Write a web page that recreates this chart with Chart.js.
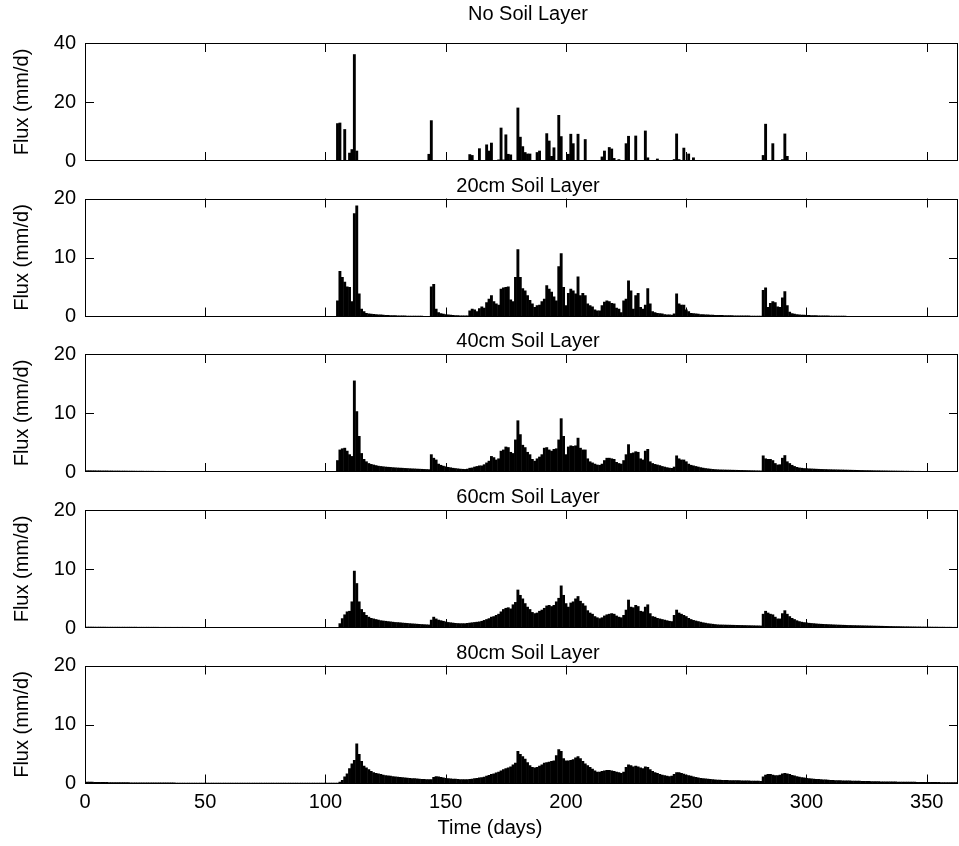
<!DOCTYPE html>
<html>
<head>
<meta charset="utf-8">
<script src="https://cdn.jsdelivr.net/npm/chart.js@4/dist/chart.umd.min.js"></script>
<style>
  html, body { margin: 0; padding: 0; background: #fff; }
  #wrap { position: relative; width: 959px; height: 846px; overflow: hidden; background: #fff; }
  #wrap canvas { position: absolute; left: 0; top: 0; }
</style>
</head>
<body>
<div id="wrap"></div>
<script>
// Daily drainage flux (mm/d) below the surface and at four soil depths, days 1-364.
const days = Array.from({ length: 364 }, (_, i) => i + 1);

const noSoilLayer = [
  0,0,0,0,0,0,0,0,0,0, 0,0,0,0,0,0,0,0,0,0, 0,0,0,0,0,0,0,0,0,0, 0,0,0,0,0,0,0,0,0,0, 0,0,0,0,0,0,0,0,0,0,
  0,0,0,0,0,0,0,0,0,0, 0,0,0,0,0,0,0,0,0,0, 0,0,0,0,0,0,0,0,0,0, 0,0,0,0,0,0,0,0,0,0, 0,0,0,0,0,0,0,0,0,0,
  0,0,0,0,12.8,13.0,0,10.8,0,2.8,          // 101-110
  4.0,36.2,3.5,0,0,0,0,0,0,0,              // 111-120
  0,0,0,0,0,0,0,0,0,0,                     // 121-130
  0,0,0,0,0,0,0,0,0,0,                     // 131-140
  0,0,2.4,13.8,0,0,0,0,0,0,                // 141-150
  0,0,0,0,0,0,0,0,0,2.3,                   // 151-160
  2.0,0,0,4.3,0,0,5.6,3.5,6.2,0,           // 161-170
  0,0.5,11.3,0.5,9.0,2.4,2.2,0,0,18.1,     // 171-180
  8.2,5.0,3.0,2.5,2.5,0,0,3.0,3.5,0,       // 181-190
  0,9.4,6.9,1.7,4.6,0,15.6,8.4,0,0,        // 191-200
  2.4,9.2,6.0,0,9.2,0,0,7.4,0,0,           // 201-210
  0,0,0,0,1.5,3.5,0,4.7,4.2,1.0,           // 211-220
  0,0.6,0,0,6.0,8.5,0,0,8.6,0,             // 221-230
  0,0,10.3,1.2,0,0,0,0.8,0,0,              // 231-240
  0,0,0,0,0.6,9.3,0.6,0,4.5,0,             // 241-250
  2.5,0,1.2,0,0,0,0,0,0,0,                 // 251-260
  0,0,0,0,0,0,0,0,0,0,                     // 261-270
  0,0,0,0,0,0,0,0,0,0,                     // 271-280
  0,2.0,12.6,0,0,6.0,0,0,0,0.6,            // 281-290
  9.3,1.7,0,0,0,0,0,0,0,0,                 // 291-300
  0,0,0,0,0,0,0,0,0,0, 0,0,0,0,0,0,0,0,0,0, 0,0,0,0,0,0,0,0,0,0,
  0,0,0,0,0,0,0,0,0,0, 0,0,0,0,0,0,0,0,0,0, 0,0,0,0,0,0,0,0,0,0, 0,0,0,0
];

const soil20cm = [
  0,0,0,0,0,0,0,0,0,0, 0,0,0,0,0,0,0,0,0,0, 0,0,0,0,0,0,0,0,0,0, 0,0,0,0,0,0,0,0,0,0, 0,0,0,0,0,0,0,0,0,0,
  0,0,0,0,0,0,0,0,0,0, 0,0,0,0,0,0,0,0,0,0, 0,0,0,0,0,0,0,0,0,0, 0,0,0,0,0,0,0,0,0,0, 0,0,0,0,0,0,0,0,0,0,
  0,0,0,0,2.7,7.7,6.7,5.9,5.1,5.0,                        // 101-110
  2.6,17.5,18.8,3.9,1.3,0.9,0.6,0.52,0.46,0.42,           // 111-120
  0.38,0.35,0.32,0.29,0.27,0.25,0.23,0.21,0.2,0.19,       // 121-130
  0.17,0.16,0.15,0.14,0.13,0.13,0.12,0.12,0.11,0.11,      // 131-140
  0.1,0.1,0.1,5.1,5.5,1.3,0.7,0.55,0.45,0.38,             // 141-150
  0.33,0.28,0.25,0.22,0.2,0.18,0.17,0.16,0.15,1.0,        // 151-160
  1.3,1.2,0.9,1.4,1.7,1.5,2.4,3.0,3.6,2.6,                // 161-170
  2.2,2.0,4.7,4.9,5.0,5.1,2.9,2.6,6.7,11.4,               // 171-180
  6.7,4.8,4.4,3.6,2.8,2.2,1.6,1.9,2.0,2.6,                // 181-190
  3.0,5.3,4.7,4.2,3.4,2.7,8.5,10.7,5.0,1.9,               // 191-200
  4.0,4.7,4.4,3.9,6.8,3.6,4.0,3.6,2.2,1.9,                // 201-210
  1.7,1.2,1.0,1.0,1.9,2.5,2.7,2.6,2.3,2.2,                // 211-220
  1.5,1.3,0.7,2.7,3.0,6.1,4.4,1.3,3.6,4.0,                // 221-230
  1.6,1.3,2.0,4.8,2.2,0.9,0.7,0.6,0.55,0.5,               // 231-240
  0.4,0.35,0.32,0.3,0.5,3.9,2.2,2.0,2.0,1.2,              // 241-250
  0.9,0.6,0.55,0.5,0.45,0.4,0.38,0.35,0.33,0.31,          // 251-260
  0.29,0.27,0.26,0.25,0.24,0.23,0.22,0.21,0.2,0.19,       // 261-270
  0.18,0.17,0.16,0.16,0.15,0.15,0.14,0.14,0.13,0.13,      // 271-280
  0.13,4.5,4.9,1.6,2.3,2.6,2.4,1.7,1.6,3.2,               // 281-290
  4.3,1.9,0.8,0.55,0.45,0.38,0.34,0.3,0.28,0.26,          // 291-300
  0.24,0.22,0.21,0.2,0.19,0.18,0.17,0.16,0.15,0.14,       // 301-310
  0.14,0.13,0.12,0.12,0.11,0.11,0.1,0.1,0.1,0.09,         // 311-320
  0.09,0.09,0.08,0.08,0.08,0.07,0.07,0.07,0.07,0.06,      // 321-330
  0.06,0.06,0.06,0.06,0.05,0.05,0.05,0.05,0.05,0.05,      // 331-340
  0.04,0.04,0.04,0.04,0.04,0.04,0.04,0.04,0.04,0.04,      // 341-350
  0.04,0.04,0.04,0.03,0.03,0.03,0.03,0.03,0.03,0.03,0.03,0.03,0.03,0.03
];

const soil40cm = [
  0.28,0.28,0.27,0.27,0.26,0.26,0.25,0.25,0.25,0.24,
  0.24,0.23,0.23,0.23,0.22,0.22,0.22,0.21,0.21,0.21,
  0.2,0.2,0.2,0.2,0.19,0.19,0.19,0.19,0.18,0.18,
  0.18,0.18,0.18,0.17,0.17,0.17,0.17,0.17,0.16,0.16,
  0.16,0.16,0.16,0.16,0.15,0.15,0.15,0.15,0.15,0.15,
  0.15,0.14,0.14,0.14,0.14,0.14,0.14,0.14,0.14,0.13,
  0.13,0.13,0.13,0.13,0.13,0.13,0.13,0.13,0.13,0.13,
  0.13,0.13,0.13,0.12,0.12,0.12,0.12,0.12,0.12,0.12,
  0.12,0.12,0.12,0.12,0.12,0.12,0.12,0.12,0.12,0.12,
  0.12,0.11,0.11,0.11,0.11,0.11,0.11,0.11,0.11,0.11,
  0.11,0.11,0.11,0.11,2.0,3.8,4.0,4.1,3.6,3.0,            // 101-110
  2.7,15.5,10.3,6.1,3.2,2.2,1.8,1.5,1.35,1.25,            // 111-120
  1.15,1.05,1.0,0.95,0.9,0.87,0.84,0.8,0.77,0.74,         // 121-130
  0.72,0.7,0.67,0.65,0.62,0.6,0.58,0.56,0.54,0.52,        // 131-140
  0.5,0.48,0.46,3.0,2.4,2.1,1.4,1.2,1.05,0.95,            // 141-150
  0.85,0.78,0.7,0.65,0.6,0.55,0.52,0.5,0.55,0.7,          // 151-160
  0.75,0.9,1.0,1.1,1.1,1.3,1.6,1.9,2.7,2.5,               // 161-170
  2.1,2.3,3.6,3.8,4.3,4.2,3.4,3.2,5.5,8.75,               // 171-180
  6.4,4.6,4.2,3.4,3.0,2.2,1.9,2.3,2.6,3.0,                // 181-190
  4.1,4.2,3.8,3.6,3.9,4.0,5.5,9.1,6.1,3.0,                // 191-200
  4.3,4.5,4.4,4.5,5.8,4.1,3.8,3.8,2.3,1.8,                // 201-210
  1.6,1.4,1.25,1.2,1.4,2.0,2.4,2.4,2.3,2.2,               // 211-220
  1.7,1.5,1.4,2.0,3.0,4.7,3.2,3.3,3.5,3.4,                // 221-230
  2.3,2.1,3.6,3.9,1.8,1.5,1.35,1.25,1.15,1.0,             // 231-240
  0.9,0.8,0.72,0.68,0.9,2.8,2.3,2.1,2.1,1.8,              // 241-250
  1.4,1.2,1.1,1.0,0.9,0.8,0.72,0.65,0.6,0.55,             // 251-260
  0.5,0.47,0.44,0.42,0.41,0.4,0.39,0.38,0.37,0.36,        // 261-270
  0.35,0.34,0.33,0.32,0.31,0.3,0.29,0.28,0.27,0.26,       // 271-280
  0.25,2.8,2.3,2.2,2.2,2.0,1.5,1.25,1.3,2.4,              // 281-290
  2.85,1.8,1.5,1.2,1.0,0.85,0.75,0.7,0.65,0.62,           // 291-300
  0.6,0.58,0.56,0.54,0.52,0.5,0.49,0.48,0.46,0.45,        // 301-310
  0.44,0.43,0.42,0.41,0.4,0.39,0.38,0.37,0.36,0.35,       // 311-320
  0.34,0.33,0.32,0.31,0.3,0.3,0.29,0.28,0.27,0.27,        // 321-330
  0.26,0.25,0.25,0.24,0.23,0.23,0.22,0.22,0.21,0.21,      // 331-340
  0.2,0.2,0.19,0.19,0.18,0.18,0.18,0.17,0.17,0.16,        // 341-350
  0.16,0.16,0.15,0.15,0.15,0.14,0.14,0.14,0.13,0.13,0.13,0.13,0.12,0.12
];

const soil60cm = [
  0.22,0.22,0.22,0.21,0.21,0.21,0.21,0.21,0.2,0.2,
  0.2,0.2,0.2,0.2,0.2,0.2,0.2,0.2,0.2,0.2,
  0.2,0.19,0.19,0.19,0.19,0.19,0.19,0.19,0.19,0.19,
  0.18,0.18,0.18,0.18,0.18,0.18,0.18,0.18,0.18,0.18,
  0.18,0.18,0.18,0.17,0.17,0.17,0.17,0.17,0.17,0.17,
  0.17,0.17,0.16,0.16,0.16,0.16,0.16,0.16,0.16,0.16,
  0.16,0.16,0.15,0.15,0.15,0.15,0.15,0.15,0.15,0.15,
  0.15,0.15,0.15,0.15,0.15,0.15,0.15,0.15,0.15,0.15,
  0.15,0.14,0.14,0.14,0.14,0.14,0.14,0.14,0.14,0.14,
  0.14,0.14,0.14,0.14,0.14,0.14,0.14,0.14,0.14,0.14,
  0.14,0.14,0.14,0.14,0.14,0.8,1.65,2.3,2.8,2.9,          // 101-110
  4.5,9.7,7.6,4.5,3.2,2.7,2.2,1.9,1.7,1.6,                // 111-120
  1.5,1.4,1.3,1.25,1.2,1.15,1.1,1.05,1.0,0.98,            // 121-130
  0.95,0.9,0.87,0.84,0.8,0.77,0.74,0.71,0.68,0.65,        // 131-140
  0.63,0.6,0.58,1.4,1.9,1.6,1.4,1.3,1.2,1.1,              // 141-150
  1.0,0.95,0.9,0.85,0.82,0.8,0.8,0.8,0.85,0.9,            // 151-160
  0.95,1.0,1.05,1.1,1.2,1.35,1.5,1.65,1.9,2.0,            // 161-170
  2.2,2.4,2.8,3.2,3.4,3.5,3.3,4.0,4.4,6.5,                // 171-180
  5.6,5.0,4.2,3.6,3.2,2.7,2.5,2.6,2.9,3.1,                // 181-190
  3.4,3.8,3.9,3.7,3.9,4.5,5.1,7.2,5.6,4.2,                // 191-200
  3.6,4.3,4.5,5.0,5.4,4.6,4.2,3.8,3.0,2.6,                // 201-210
  2.4,2.0,1.8,1.65,1.8,2.1,2.3,2.4,2.5,2.4,               // 211-220
  2.1,1.9,1.8,2.2,3.1,4.8,3.6,3.5,3.9,3.7,                // 221-230
  2.9,2.8,3.6,4.0,2.5,2.0,1.9,1.7,1.6,1.5,                // 231-240
  1.4,1.3,1.2,1.15,2.2,3.1,2.6,2.4,2.2,2.0,               // 241-250
  1.7,1.5,1.35,1.25,1.15,1.05,0.95,0.88,0.8,0.75,         // 251-260
  0.7,0.65,0.6,0.58,0.57,0.56,0.55,0.54,0.53,0.52,        // 261-270
  0.51,0.5,0.49,0.48,0.47,0.46,0.45,0.44,0.43,0.42,       // 271-280
  0.41,2.4,2.9,2.6,2.4,2.3,1.9,1.6,1.6,2.5,               // 281-290
  3.0,2.4,2.0,1.7,1.5,1.3,1.15,1.05,0.98,0.92,            // 291-300
  0.87,0.83,0.8,0.76,0.72,0.7,0.68,0.66,0.64,0.62,        // 301-310
  0.6,0.58,0.56,0.55,0.53,0.52,0.5,0.49,0.48,0.47,        // 311-320
  0.46,0.45,0.44,0.43,0.42,0.41,0.4,0.39,0.38,0.37,       // 321-330
  0.36,0.35,0.34,0.33,0.32,0.31,0.3,0.3,0.29,0.28,        // 331-340
  0.27,0.27,0.26,0.25,0.25,0.24,0.24,0.23,0.23,0.22,      // 341-350
  0.22,0.21,0.21,0.21,0.2,0.2,0.2,0.19,0.19,0.19,0.18,0.18,0.18,0.18
];

const soil80cm = [
  0.3,0.29,0.28,0.27,0.26,0.26,0.25,0.24,0.24,0.23,
  0.23,0.22,0.22,0.21,0.21,0.2,0.2,0.2,0.19,0.19,
  0.19,0.18,0.18,0.18,0.17,0.17,0.17,0.17,0.16,0.16,
  0.16,0.16,0.15,0.15,0.15,0.15,0.15,0.14,0.14,0.14,
  0.14,0.14,0.14,0.14,0.14,0.13,0.13,0.13,0.13,0.13,
  0.13,0.13,0.13,0.13,0.13,0.13,0.13,0.13,0.13,0.13,
  0.12,0.12,0.12,0.12,0.12,0.12,0.12,0.12,0.12,0.12,
  0.12,0.12,0.12,0.12,0.12,0.12,0.12,0.12,0.12,0.12,
  0.11,0.11,0.11,0.11,0.11,0.11,0.11,0.11,0.11,0.11,
  0.11,0.11,0.11,0.11,0.11,0.11,0.11,0.11,0.11,0.11,
  0.11,0.11,0.11,0.11,0.11,0.3,0.6,1.2,1.7,2.6,           // 101-110
  3.4,4.0,6.8,5.0,3.8,3.0,2.7,2.4,2.1,1.9,                // 111-120
  1.8,1.7,1.6,1.5,1.4,1.35,1.3,1.25,1.2,1.15,             // 121-130
  1.1,1.05,1.0,0.97,0.93,0.9,0.87,0.84,0.81,0.78,         // 131-140
  0.75,0.72,0.7,0.7,1.1,1.25,1.2,1.1,1.0,0.95,            // 141-150
  0.9,0.86,0.82,0.79,0.76,0.74,0.72,0.72,0.74,0.78,       // 151-160
  0.82,0.88,0.95,1.0,1.05,1.15,1.3,1.45,1.6,1.7,          // 161-170
  1.85,2.0,2.2,2.4,2.6,2.7,2.9,3.2,3.5,5.5,               // 171-180
  5.0,4.6,4.2,3.6,3.1,2.8,2.7,2.8,3.0,3.2,                // 181-190
  3.5,3.6,3.7,3.8,3.9,4.8,5.8,5.5,4.3,3.9,                // 191-200
  3.9,4.0,4.1,4.4,4.6,4.3,3.8,3.4,3.1,2.8,                // 201-210
  2.5,2.2,2.0,2.0,2.1,2.2,2.3,2.3,2.2,2.1,                // 211-220
  2.0,1.9,1.8,2.0,2.8,3.2,3.1,2.9,3.0,2.9,                // 221-230
  2.7,2.6,2.9,2.8,2.4,2.1,1.9,1.8,1.6,1.5,                // 231-240
  1.4,1.3,1.25,1.3,1.6,1.9,1.9,1.8,1.65,1.5,              // 241-250
  1.4,1.3,1.2,1.1,1.0,0.95,0.9,0.85,0.8,0.76,             // 251-260
  0.72,0.68,0.65,0.63,0.61,0.6,0.58,0.57,0.56,0.55,       // 261-270
  0.54,0.53,0.52,0.51,0.5,0.49,0.48,0.47,0.46,0.45,       // 271-280
  0.44,1.2,1.5,1.6,1.6,1.5,1.4,1.4,1.5,1.7,               // 281-290
  1.8,1.7,1.6,1.45,1.35,1.25,1.15,1.05,1.0,0.95,          // 291-300
  0.9,0.86,0.82,0.78,0.75,0.72,0.69,0.66,0.63,0.6,        // 301-310
  0.58,0.56,0.54,0.53,0.52,0.51,0.5,0.49,0.48,0.47,       // 311-320
  0.46,0.45,0.44,0.43,0.42,0.41,0.4,0.39,0.38,0.37,       // 321-330
  0.36,0.35,0.35,0.34,0.33,0.33,0.32,0.31,0.31,0.3,       // 331-340
  0.3,0.29,0.29,0.28,0.28,0.27,0.27,0.26,0.26,0.25,       // 341-350
  0.25,0.25,0.24,0.24,0.24,0.23,0.23,0.23,0.22,0.22,0.22,0.22,0.21,0.21
];

const panelTitles = ['No Soil Layer', '20cm Soil Layer', '40cm Soil Layer', '60cm Soil Layer', '80cm Soil Layer'];
const panelSeries = [noSoilLayer, soil20cm, soil40cm, soil60cm, soil80cm];
const yMaxima = [40, 20, 20, 20, 20];
const yTickValues = [[0, 20, 40], [0, 10, 20], [0, 10, 20], [0, 10, 20], [0, 10, 20]];
const xTickValues = [0, 50, 100, 150, 200, 250, 300, 350];
const xRange = [0, 363];
const xAxisTitle = 'Time (days)';
const yAxisTitle = 'Flux (mm/d)';

// page geometry
const W = 959, H = 846;
const PLOT_LEFT = 85, PLOT_RIGHT = 958, PLOT_H = 118;
const plotTops = [43, 198.5, 354, 510, 665.5];
const titleCenters = [14, 186, 341.5, 497.5, 653];
const TITLE_X = 528;
const XLABEL_POS = [490, 828];
const FONT = "'Liberation Sans', Arial, Helvetica, sans-serif";
const FS = 20;
const TICK_LEN = 9;

// inward ticks on all four sides, the surrounding box, and the panel captions
const framePlugin = {
  id: 'frame',
  afterDatasetsDraw(chart, args, opts) {
    const { ctx, chartArea: a, scales: { x, y } } = chart;
    ctx.save();
    ctx.strokeStyle = '#000';
    ctx.lineWidth = 1;
    ctx.beginPath();
    x.ticks.forEach(t => {
      if (t.value <= x.min || t.value >= x.max) return;
      const px = Math.round(x.getPixelForValue(t.value)) + 0.5;
      ctx.moveTo(px, a.bottom); ctx.lineTo(px, a.bottom - TICK_LEN);
      ctx.moveTo(px, a.top); ctx.lineTo(px, a.top + TICK_LEN);
    });
    y.ticks.forEach(t => {
      if (t.value <= y.min || t.value >= y.max) return;
      const py = Math.round(y.getPixelForValue(t.value)) + 0.5;
      ctx.moveTo(a.left, py); ctx.lineTo(a.left + TICK_LEN, py);
      ctx.moveTo(a.right, py); ctx.lineTo(a.right - TICK_LEN, py);
    });
    ctx.stroke();
    ctx.strokeRect(Math.round(a.left) + 0.5, Math.round(a.top) + 0.5,
                   Math.round(a.width) - 1, Math.round(a.height) - 1);

    ctx.fillStyle = '#000';
    ctx.font = FS + 'px ' + FONT;
    ctx.textAlign = 'center';
    ctx.textBaseline = 'middle';
    ctx.fillText(opts.title, TITLE_X, opts.titleY);
    if (opts.xLabel) ctx.fillText(opts.xLabel, XLABEL_POS[0], XLABEL_POS[1]);
    ctx.restore();
  }
};

const wrap = document.getElementById('wrap');

panelSeries.forEach((series, i) => {
  const canvas = document.createElement('canvas');
  canvas.width = W; canvas.height = H;
  canvas.style.width = W + 'px'; canvas.style.height = H + 'px';
  wrap.appendChild(canvas);

  const last = i === panelSeries.length - 1;
  const top = plotTops[i];
  const bottom = top + PLOT_H;
  const xAxisH = last ? H - bottom : 0;

  new Chart(canvas, {
    type: 'bar',
    data: {
      labels: days,
      datasets: [{
        data: series,
        backgroundColor: '#000',
        borderWidth: 0,
        barPercentage: 1.2,
        categoryPercentage: 1
      }]
    },
    plugins: [framePlugin],
    options: {
      responsive: false,
      devicePixelRatio: 1,
      animation: false,
      events: [],
      layout: {
        padding: { left: 0, right: W - PLOT_RIGHT, top: top, bottom: last ? 0 : H - bottom }
      },
      plugins: {
        legend: { display: false },
        tooltip: { enabled: false },
        title: { display: false },
        frame: {
          title: panelTitles[i],
          titleY: titleCenters[i],
          xLabel: last ? xAxisTitle : null
        }
      },
      scales: {
        x: {
          type: 'linear',
          offset: false,
          min: xRange[0],
          max: xRange[1],
          afterBuildTicks(s) { s.ticks = xTickValues.map(v => ({ value: v })); },
          afterFit(s) { s.height = xAxisH; },
          grid: { display: false, drawTicks: false, offset: false },
          border: { display: false },
          ticks: {
            display: last,
            color: '#000',
            padding: 7,
            maxRotation: 0,
            autoSkip: false,
            font: { family: FONT, size: FS }
          },
          title: { display: false }
        },
        y: {
          min: 0,
          max: yMaxima[i],
          afterBuildTicks(s) { s.ticks = yTickValues[i].map(v => ({ value: v })); },
          afterFit(s) { s.width = PLOT_LEFT; },
          grid: { display: false, drawTicks: false },
          border: { display: false },
          ticks: {
            color: '#000',
            padding: 9,
            font: { family: FONT, size: FS }
          },
          title: {
            display: true,
            text: yAxisTitle,
            color: '#000',
            font: { family: FONT, size: FS },
            padding: { top: 10, bottom: 0 }
          }
        }
      }
    }
  });
});
</script>
</body>
</html>
